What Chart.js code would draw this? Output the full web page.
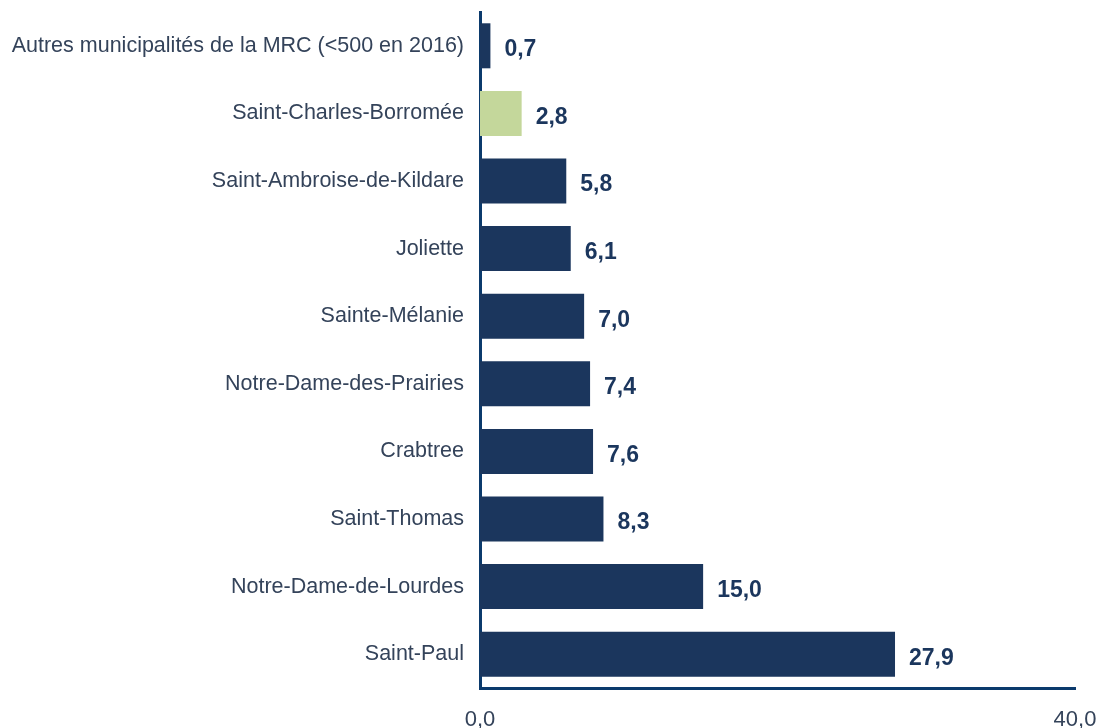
<!DOCTYPE html>
<html>
<head>
<meta charset="utf-8">
<script src="https://cdn.jsdelivr.net/npm/chart.js"></script>
<style>
    html, body { margin: 0; padding: 0; background: #ffffff; }
    #wrap { width: 1102px; height: 728px; position: relative; }
</style>
</head>
<body>
<div id="wrap"><canvas id="chart"></canvas></div>
<script>
// Chart data
const categories = [
    'Autres municipalités de la MRC (<500 en 2016)',
    'Saint-Charles-Borromée',
    'Saint-Ambroise-de-Kildare',
    'Joliette',
    'Sainte-Mélanie',
    'Notre-Dame-des-Prairies',
    'Crabtree',
    'Saint-Thomas',
    'Notre-Dame-de-Lourdes',
    'Saint-Paul'
];
const values = [0.7, 2.8, 5.8, 6.1, 7.0, 7.4, 7.6, 8.3, 15.0, 27.9];
const xTicks = [0, 40];
const highlighted = 'Saint-Charles-Borromée';

const navy = '#1b365d';
const green = '#c4d79b';
const axisColor = '#0b3a6c';
const textColor = '#34435a';
const fontFamily = '"Liberation Sans", Arial, sans-serif';

// Format number with comma decimal
function formatValue(v) {
    return v.toFixed(1).replace('.', ',');
}

// Draw value labels next to bars
const valueLabels = {
    id: 'valueLabels',
    afterDatasetsDraw(chart) {
        const ctx = chart.ctx;
        const meta = chart.getDatasetMeta(0);
        ctx.save();
        ctx.font = 'bold 23px ' + fontFamily;
        ctx.fillStyle = navy;
        ctx.textAlign = 'left';
        ctx.textBaseline = 'middle';
        meta.data.forEach((bar, i) => {
            ctx.fillText(formatValue(values[i]), bar.x + 14, bar.y + 4);
        });
        ctx.restore();
    }
};

new Chart(document.getElementById('chart'), {
    type: 'bar',
    data: {
        labels: categories,
        datasets: [{
            data: values,
            backgroundColor: categories.map(c => c === highlighted ? green : navy),
            borderWidth: 0,
            categoryPercentage: 1,
            barPercentage: 0.666
        }]
    },
    options: {
        indexAxis: 'y',
        responsive: true,
        maintainAspectRatio: false,
        animation: false,
        layout: { padding: { top: 12, right: 27, left: 0, bottom: 0 } },
        plugins: {
            legend: { display: false },
            tooltip: { enabled: false }
        },
        scales: {
            x: {
                min: 0,
                max: 40,
                afterBuildTicks: scale => {
                    scale.ticks = xTicks.map(v => ({ value: v }));
                },
                afterFit: scale => {
                    scale.height = 40;
                    scale.paddingLeft = 0;
                    scale.paddingRight = 0;
                },
                grid: { display: false, drawTicks: false },
                border: { display: true, color: axisColor, width: 3 },
                ticks: {
                    padding: 19,
                    color: textColor,
                    font: { family: fontFamily, size: 22 },
                    callback: v => formatValue(v)
                }
            },
            y: {
                afterFit: scale => {
                    scale.width = 480;
                    scale.paddingTop = 0;
                    scale.paddingBottom = 0;
                },
                grid: { display: false, drawTicks: false },
                border: { display: true, color: axisColor, width: 3 },
                ticks: {
                    padding: 16,
                    color: textColor,
                    font: { family: fontFamily, size: 21.5 }
                }
            }
        }
    },
    plugins: [valueLabels]
});
</script>
</body>
</html>
